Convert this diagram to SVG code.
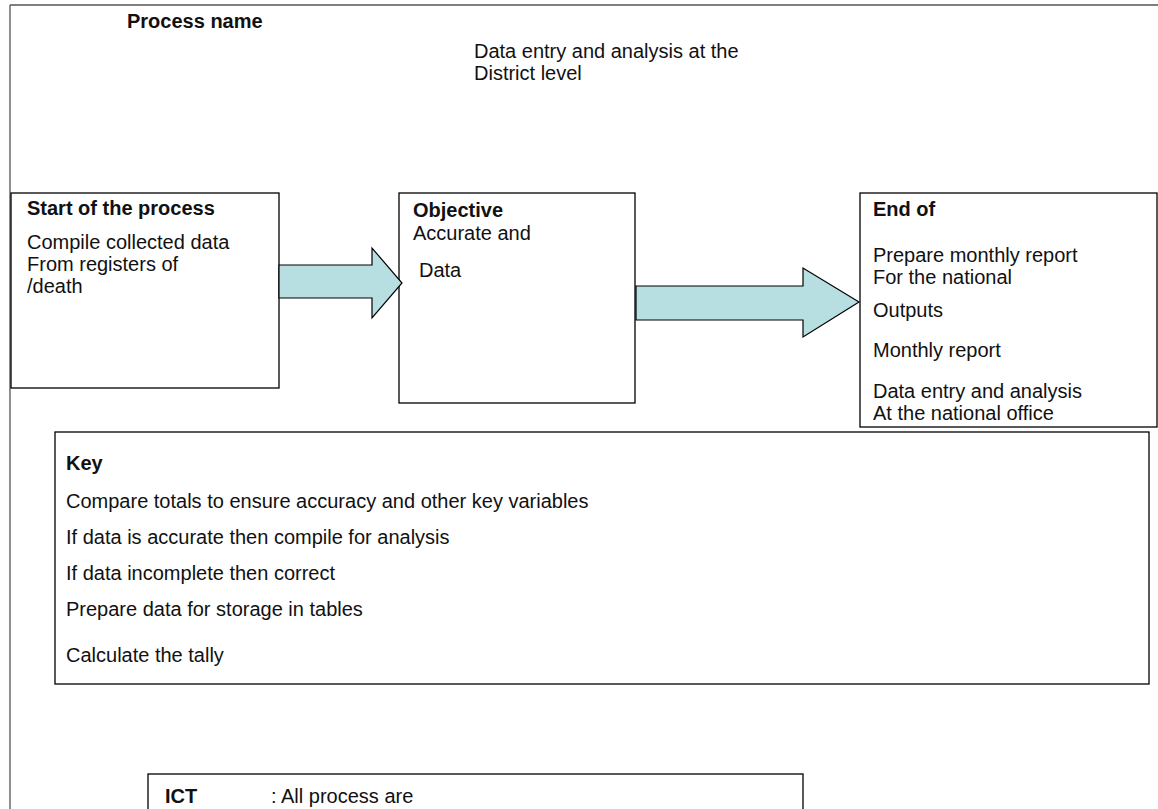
<svg xmlns="http://www.w3.org/2000/svg" width="1158" height="809" viewBox="0 0 1158 809">
  <style>
    .box { fill: #ffffff; stroke: #000000; stroke-width: 1.3; }
    .frame { fill: none; stroke: #555555; stroke-width: 1.3; }
    .arrow { fill: #b7dfe2; stroke: #000000; stroke-width: 1.2; stroke-linejoin: miter; }
    text { font-family: "Liberation Sans", Arial, Helvetica, sans-serif; font-size: 20px; fill: #111111; }
    .b { font-weight: bold; }
  </style>

  <rect x="0" y="0" width="1158" height="809" fill="#ffffff"/>

  <!-- page frame -->
  <g id="frame">
    <path class="frame" d="M10,5 H1158 M10,5 V809"/>
  </g>

  <!-- header -->
  <g id="process-name">
    <text class="b" x="127" y="28">Process name</text>
    <text x="474" y="58">Data entry and analysis at the</text>
    <text x="474" y="80">District level</text>
  </g>

  <!-- start node -->
  <g id="start">
    <rect class="box" x="11" y="193" width="268" height="195"/>
    <text class="b" x="27" y="215">Start of the process</text>
    <text x="27" y="249">Compile collected data</text>
    <text x="27" y="271">From registers of</text>
    <text x="27" y="293">/death</text>
  </g>

  <!-- objective node -->
  <g id="objective">
    <rect class="box" x="399" y="193" width="236" height="210"/>
    <text class="b" x="413" y="217">Objective</text>
    <text x="413" y="240">Accurate and</text>
    <text x="419" y="277">Data</text>
  </g>

  <!-- end node -->
  <g id="end">
    <rect class="box" x="860" y="193" width="297" height="234"/>
    <text class="b" x="873" y="216">End of</text>
    <text x="873" y="262">Prepare monthly report</text>
    <text x="873" y="284">For the national</text>
    <text x="873" y="317">Outputs</text>
    <text x="873" y="357">Monthly report</text>
    <text x="873" y="398">Data entry and analysis</text>
    <text x="873" y="420">At the national office</text>
  </g>

  <!-- key node -->
  <g id="key">
    <rect class="box" x="55" y="432" width="1094" height="252"/>
    <text class="b" x="66" y="470">Key</text>
    <text x="66" y="508">Compare totals to ensure accuracy and other key variables</text>
    <text x="66" y="544">If data is accurate then compile for analysis</text>
    <text x="66" y="580">If data incomplete then correct</text>
    <text x="66" y="616">Prepare data for storage in tables</text>
    <text x="66" y="662">Calculate the tally</text>
  </g>

  <!-- ICT node -->
  <g id="ict">
    <rect class="box" x="148" y="774" width="655" height="60"/>
    <text class="b" x="165" y="803">ICT</text>
    <text x="271" y="803">: All process are</text>
  </g>

  <!-- block arrows -->
  <g id="connectors">
    <path class="arrow" d="M279,265 H372 V248 L402,283 L372,318 V298 H279 Z"/>
    <path class="arrow" d="M636,286 H803 V268 L859,302 L803,337 V320 H636 Z"/>
  </g>
</svg>
